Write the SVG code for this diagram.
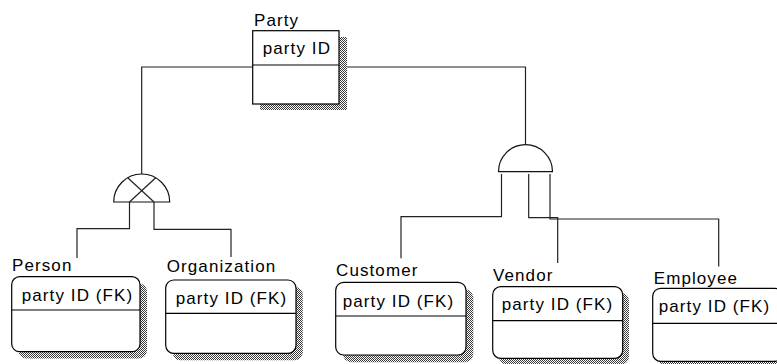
<svg xmlns="http://www.w3.org/2000/svg" width="777" height="364" viewBox="0 0 777 364">
  <defs>
    <!-- fine checkerboard used for the drop shadows -->
    <pattern id="dither" width="2" height="2" patternUnits="userSpaceOnUse">
      <rect x="0" y="0" width="2" height="2" fill="#ffffff"/>
      <rect x="0" y="0" width="1" height="1" fill="#3a3a3a"/>
      <rect x="1" y="1" width="1" height="1" fill="#3a3a3a"/>
    </pattern>
  </defs>
  <style>
    .wire { fill: none; stroke: #222; stroke-width: 1.2; }
    .sym { fill: #ffffff; stroke: #111; stroke-width: 1.2; }
    .shadow { fill: url(#dither); }
    .box { fill: #ffffff; stroke: #000; stroke-width: 1.2; }
    .rule { stroke: #000; stroke-width: 1.2; }
    .name, .attr { font-family: "Liberation Sans", Arial, sans-serif; font-size: 17px; fill: #000; letter-spacing: 1.1px; }
  </style>
  <rect width="777" height="364" fill="#ffffff"/>

  <!-- relationship lines -->
  <g id="connectors">
    <path class="wire" d="M253,67 H141.7 V174"/>
    <path class="wire" d="M339,67 H525.5 V144.5"/>
    <path class="wire" d="M129.5,202 V228.7 H77 V258"/>
    <path class="wire" d="M154,202 V229.3 H231 V257"/>
    <path class="wire" d="M501.5,174 V216.7 H401 V258.3"/>
    <path class="wire" d="M528.7,174 V217.7 H557.7 V263"/>
    <path class="wire" d="M550,174 V219 H718.7 V266.5"/>
  </g>

  <!-- exclusive subtype symbol -->
  <g id="subtype-exclusive">
    <path class="sym" d="M113.7,202 A28,28 0 0 1 169.7,202 Z"/>
    <line class="wire" x1="127.7" y1="177.8" x2="154" y2="202"/>
    <line class="wire" x1="155.7" y1="177.8" x2="129.5" y2="202"/>
  </g>

  <!-- inclusive subtype symbol -->
  <g id="subtype-inclusive">
    <path class="sym" d="M498.5,171.7 A27,27 0 0 1 552.5,171.7 Z"/>
  </g>

  <g id="party">
    <rect class="shadow" x="260" y="37" width="87" height="73"/>
    <rect class="box" x="252.7" y="30.7" width="86.3" height="73.3"/>
    <line class="rule" x1="252.7" y1="65" x2="339" y2="65"/>
    <text class="name" x="254" y="25.7">Party</text>
    <text class="attr" x="262.7" y="53.5">party ID</text>
  </g>

  <g id="person">
    <rect class="shadow" x="18.5" y="283.5" width="128.5" height="75" rx="8"/>
    <rect class="box" x="11.7" y="276.7" width="128.3" height="75" rx="8"/>
    <line class="rule" x1="11.7" y1="310" x2="140" y2="310"/>
    <text class="name" x="12" y="271">Person</text>
    <text class="attr" x="21.7" y="300.7">party ID (FK)</text>
  </g>

  <g id="organization">
    <rect class="shadow" x="172.5" y="287" width="130.3" height="73.3" rx="8"/>
    <rect class="box" x="165.7" y="280" width="130.3" height="73.3" rx="8"/>
    <line class="rule" x1="165.7" y1="313.3" x2="296" y2="313.3"/>
    <text class="name" x="166.7" y="272.2">Organization</text>
    <text class="attr" x="175.7" y="303.5">party ID (FK)</text>
  </g>

  <g id="customer">
    <rect class="shadow" x="343" y="289.5" width="130.3" height="72.7" rx="8"/>
    <rect class="box" x="335.7" y="282.3" width="130.3" height="72.7" rx="8"/>
    <line class="rule" x1="335.7" y1="316" x2="466" y2="316"/>
    <text class="name" x="336" y="275.5">Customer</text>
    <text class="attr" x="342.7" y="306.7">party ID (FK)</text>
  </g>

  <g id="vendor">
    <rect class="shadow" x="499" y="293" width="130" height="71.6" rx="8"/>
    <rect class="box" x="492.7" y="286.7" width="130" height="71.6" rx="8"/>
    <line class="rule" x1="492.7" y1="320.7" x2="622.7" y2="320.7"/>
    <text class="name" x="493" y="280.5">Vendor</text>
    <text class="attr" x="501.7" y="310">party ID (FK)</text>
  </g>

  <g id="employee">
    <rect class="shadow" x="659.5" y="295.3" width="130" height="73" rx="8"/>
    <rect class="box" x="652.7" y="288.3" width="130" height="73" rx="8"/>
    <line class="rule" x1="652.7" y1="323.3" x2="782.7" y2="323.3"/>
    <text class="name" x="653.7" y="284">Employee</text>
    <text class="attr" x="658.7" y="312.3">party ID (FK)</text>
  </g>
</svg>
